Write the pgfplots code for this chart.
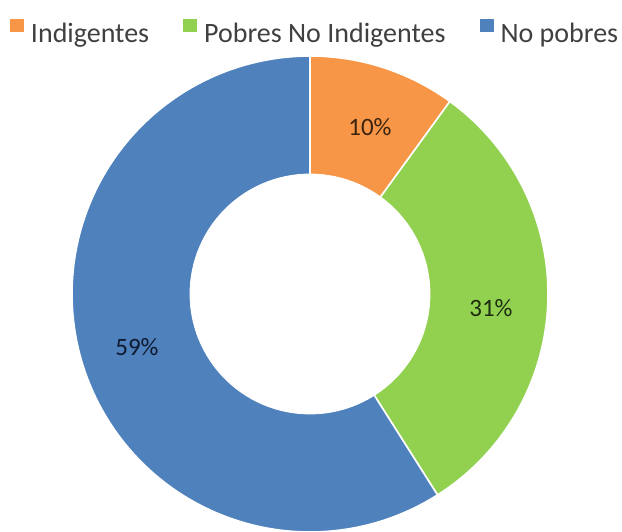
\documentclass[border=0pt]{standalone}
\usepackage{pgfplots}
\pgfplotsset{compat=1.18}
\usepackage{fontspec}
\setmainfont{Carlito}
\definecolor{cOrange}{HTML}{F79646}
\definecolor{cGreen}{HTML}{92D050}
\definecolor{cBlue}{HTML}{4F81BD}
\definecolor{legtext}{HTML}{404040}
\definecolor{lbA}{HTML}{3A2410}
\definecolor{lbB}{HTML}{1C2E0E}
\definecolor{lbC}{HTML}{0E1A30}
% data (percent)
\def\vA{10}\def\vB{31}\def\vC{59}
\pgfmathsetmacro\aA{3.6*\vA}
\pgfmathsetmacro\aB{3.6*(\vA+\vB)}
\pgfmathsetmacro\aC{3.6*(\vA+\vB+\vC)}
\def\cx{310}\def\cy{294}\def\R{238}\def\ri{120}
\begin{document}
\begin{tikzpicture}
\begin{axis}[
  scale only axis, width=311pt, height=265.5pt,
  xmin=0, xmax=622, ymin=0, ymax=531, y dir=reverse,
  hide axis, clip=true,
  legend columns=3,
  legend image code/.code={\fill[#1,draw=none] (0pt,1pt) rectangle (7pt,7.5pt);},
  legend style={draw=none, fill=none, inner sep=0pt, outer sep=0pt,
    nodes={inner sep=0pt, text=legtext},
    font=\fontsize{14pt}{16pt}\selectfont,
    column sep=0pt,
    /tikz/every odd column/.append style={column sep=3.5pt},
    /tikz/every even column/.append style={column sep=17pt},
    at={(axis cs:10,19)}, anchor=north west},
]
\addplot[fill=cOrange, draw=white, line width=0.8pt, domain=0:\aA, samples=40, variable=\t]
  ({\cx+\R*sin(t)},{\cy-\R*cos(t)}) -- (axis cs:\cx,\cy) -- cycle;
\addlegendentry{Indigentes}
\addplot[fill=cGreen, draw=white, line width=0.8pt, domain=\aA:\aB, samples=80, variable=\t]
  ({\cx+\R*sin(t)},{\cy-\R*cos(t)}) -- (axis cs:\cx,\cy) -- cycle;
\addlegendentry{Pobres No Indigentes}
\addplot[fill=cBlue, draw=white, line width=0.8pt, domain=\aB:\aC, samples=120, variable=\t]
  ({\cx+\R*sin(t)},{\cy-\R*cos(t)}) -- (axis cs:\cx,\cy) -- cycle;
\addlegendentry{No pobres}
\addplot[fill=white, draw=white, forget plot, domain=0:360, samples=120, variable=\t]
  ({\cx+\ri*sin(t)},{\cy-\ri*cos(t)}) -- cycle;
\node[font=\fontsize{12.5pt}{14pt}\selectfont, text=lbA] at (axis cs:370,127) {10\%};
\node[font=\fontsize{12.5pt}{14pt}\selectfont, text=lbB] at (axis cs:491,308) {31\%};
\node[font=\fontsize{12.5pt}{14pt}\selectfont, text=lbC] at (axis cs:137,347) {59\%};
\end{axis}
\pgfresetboundingbox
\path (current axis.south west) rectangle (current axis.north east);
\end{tikzpicture}
\end{document}
